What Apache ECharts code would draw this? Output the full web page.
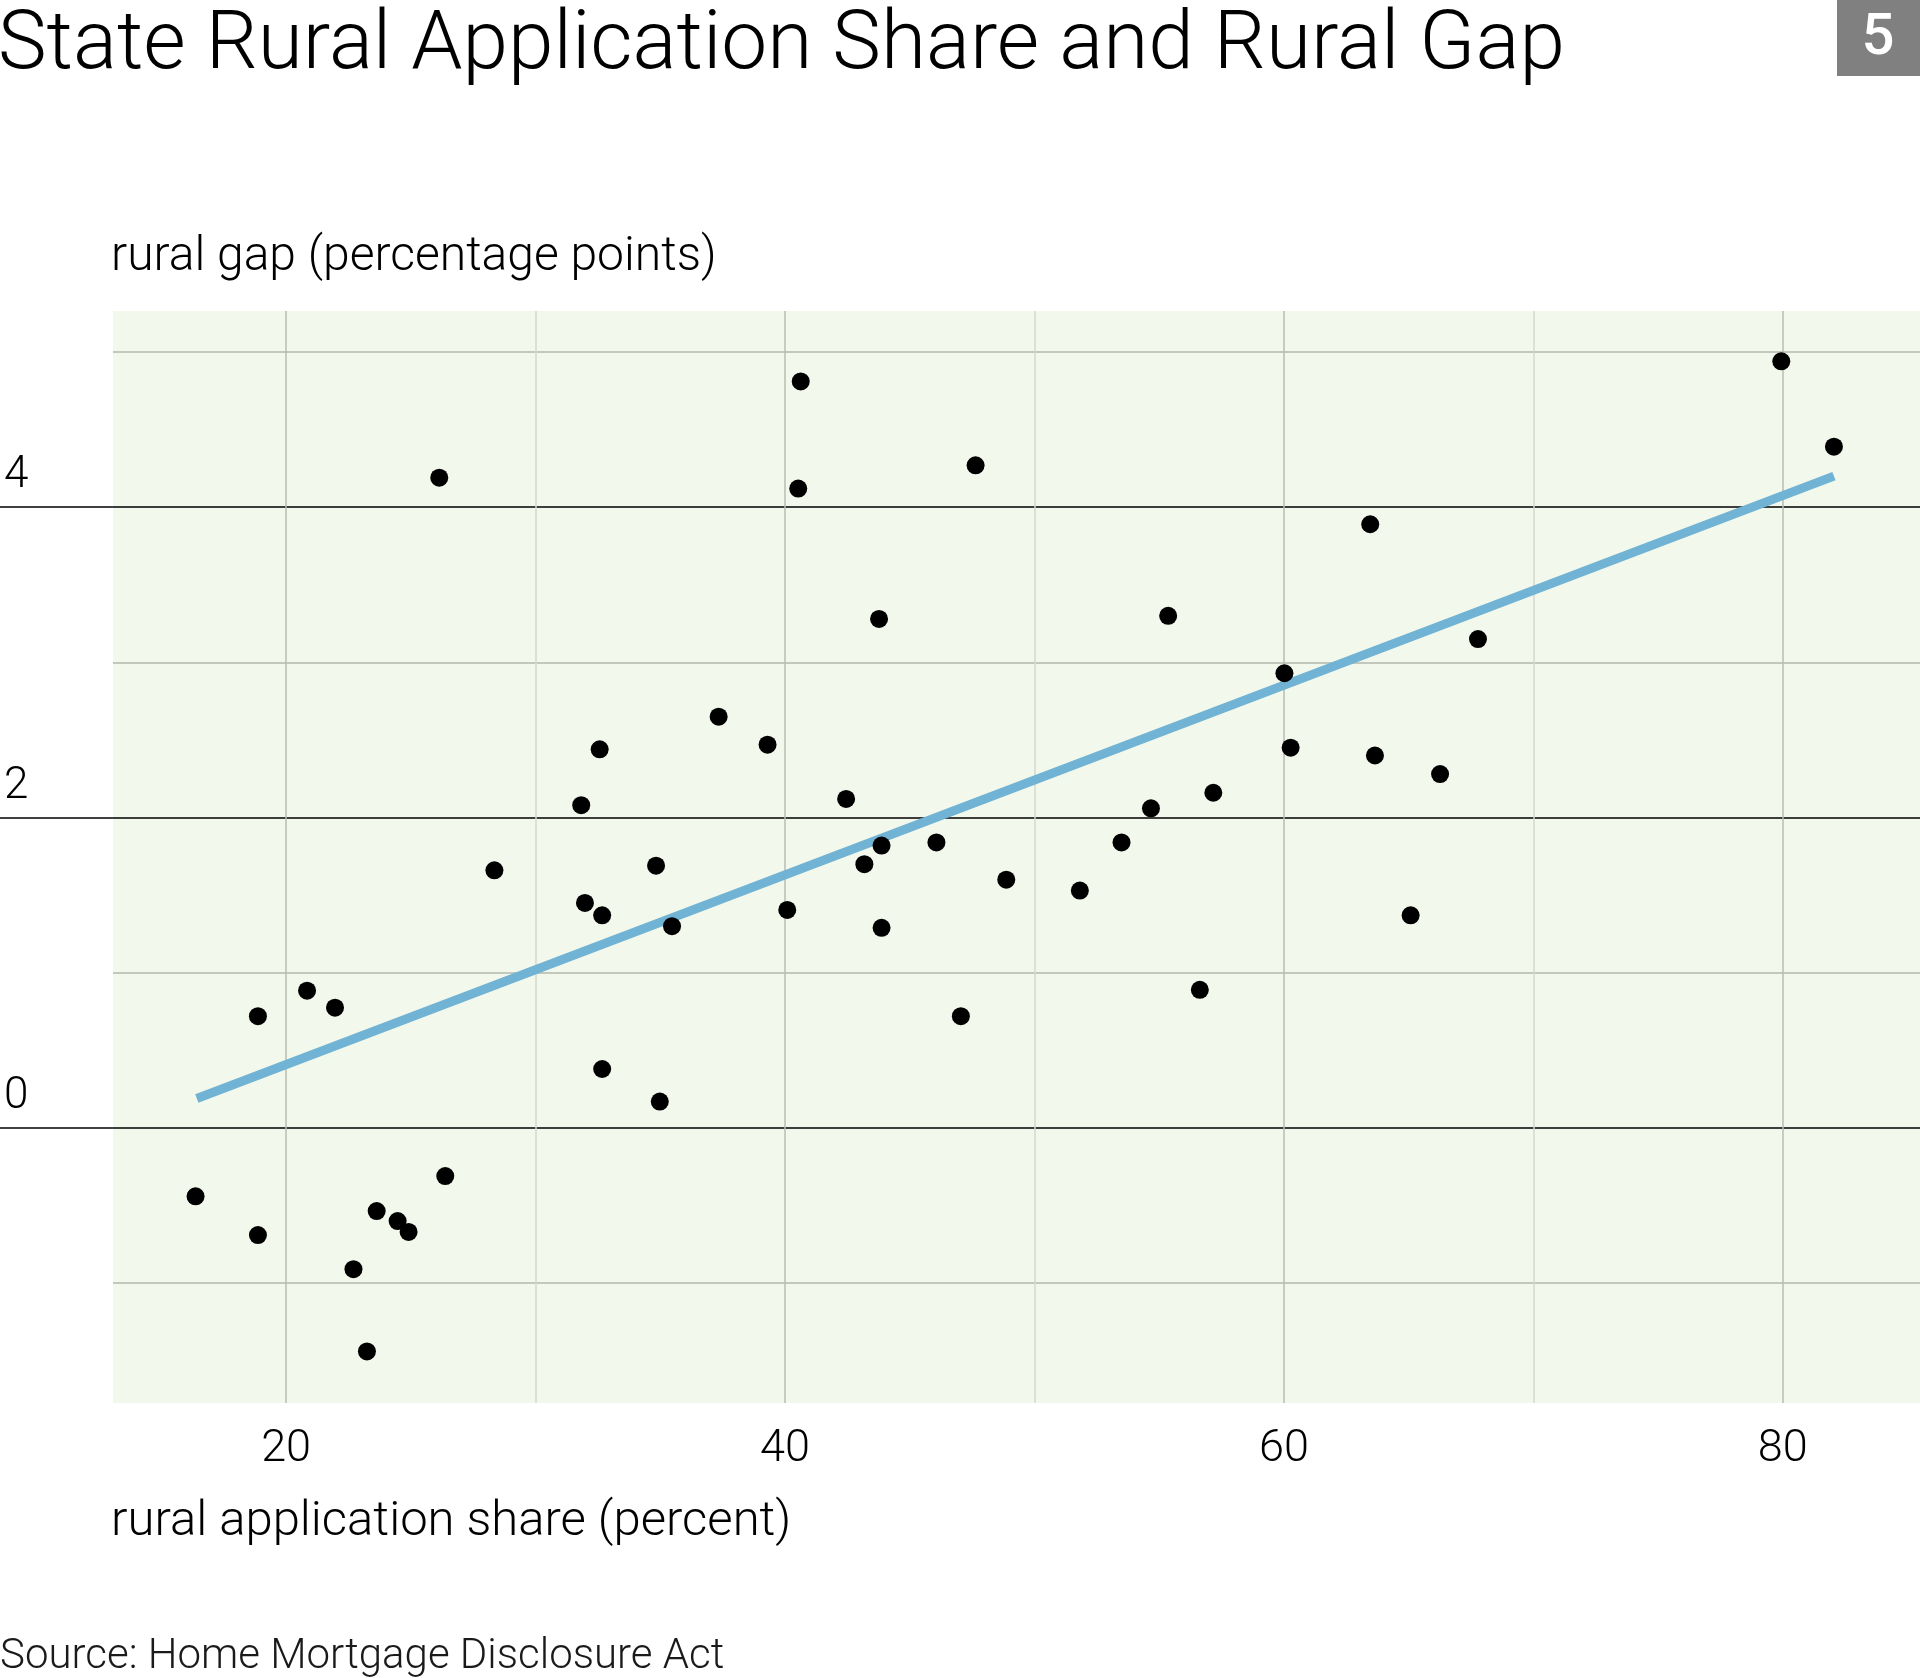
<!DOCTYPE html>
<html>
<head>
<meta charset="utf-8">
<title>State Rural Application Share and Rural Gap</title>
<script src="https://cdn.jsdelivr.net/npm/echarts@6/dist/echarts.min.js"></script>
<style>
    html, body { margin: 0; padding: 0; background: #fff; }
    #chart { width: 1920px; height: 1678px; }
</style>
</head>
<body>
<div id="chart"></div>
<script>
// rural application share (percent), one value per state
const appShare = [
    16.37, 18.87, 18.87, 20.84, 21.96, 22.70, 23.24, 23.63, 24.47, 24.91,
    26.14, 26.38, 28.35, 31.83, 31.98, 32.57, 32.67, 32.67, 34.83, 34.98,
    35.47, 37.34, 39.30, 40.09, 40.53, 40.63, 42.45, 43.18, 43.77, 43.87,
    43.87, 46.07, 47.05, 47.64, 48.87, 51.82, 53.49, 54.67, 55.36, 56.63,
    57.17, 60.02, 60.27, 63.46, 63.65, 65.08, 66.26, 67.78, 79.94, 82.05
];

// rural gap (percentage points), same order as appShare
const ruralGap = [
    -0.44, -0.69, 0.72, 0.885, 0.775, -0.91, -1.44, -0.535, -0.60, -0.67,
    4.19, -0.31, 1.66, 2.08, 1.45, 2.44, 1.37, 0.38, 1.69, 0.17,
    1.30, 2.65, 2.47, 1.405, 4.12, 4.81, 2.12, 1.70, 3.28, 1.82,
    1.29, 1.84, 0.72, 4.27, 1.60, 1.53, 1.84, 2.06, 3.30, 0.89,
    2.16, 2.93, 2.45, 3.89, 2.40, 1.37, 2.28, 3.15, 4.94, 4.39
];

// fitted line end points
const trendShare = [16.42, 82.05];
const trendGap = [0.19, 4.20];

// ticks
const xGridTicks = [20, 30, 40, 50, 60, 70, 80];
const xLabelTicks = [20, 40, 60, 80];
const yGridTicks = [-1, 0, 1, 2, 3, 4, 5];
const yLabelTicks = [0, 2, 4];

(() => {
    const font = 'Roboto';
    const xRange = [13.06, 85.5];
    const yRange = [-1.772, 5.264];
    const plotTop = 311, plotBottom = 275, plotLeft = 113;

    let points = appShare.map((x, i) => [x, ruralGap[i]]);
    let trend = trendShare.map((x, i) => [x, trendGap[i]]);

    let option = {
        animation: false,
        backgroundColor: '#fff',
        title: [{
            text: 'State Rural Application Share and Rural Gap',
            left: -2,
            top: 6,
            padding: 0,
            textStyle: { fontFamily: font, fontWeight: 300, fontSize: 82, color: '#000' }
        }, {
            text: 'rural gap (percentage points)',
            left: 111,
            top: 234,
            padding: 0,
            textStyle: { fontFamily: font, fontWeight: 300, fontSize: 48, color: '#000' }
        }, {
            text: 'rural application share (percent)',
            left: 111,
            top: 1498,
            padding: 0,
            textStyle: { fontFamily: font, fontWeight: 300, fontSize: 49, color: '#000' }
        }, {
            text: 'Source: Home Mortgage Disclosure Act',
            left: 0,
            top: 1636,
            padding: 0,
            textStyle: { fontFamily: font, fontWeight: 300, fontSize: 42, color: '#1a1a1a' }
        }],
        graphic: [{
            type: 'rect',
            shape: { x: 1837, y: 0, width: 83, height: 76 },
            style: { fill: '#808080' }
        }, {
            type: 'text',
            x: 1878,
            y: 39,
            style: {
                text: '5',
                fill: '#fff',
                fontFamily: font,
                fontWeight: 500,
                fontSize: 58,
                align: 'center',
                verticalAlign: 'middle'
            }
        }],
        grid: [{
            // plot area
            left: plotLeft,
            right: 0,
            top: plotTop,
            bottom: plotBottom,
            show: true,
            backgroundColor: '#f2f8eb',
            borderWidth: 0,
            outerBoundsMode: 'none'
        }, {
            // left label strip, carries the 0 / 2 / 4 rules out to the edge
            left: 0,
            width: plotLeft,
            top: plotTop,
            bottom: plotBottom,
            outerBoundsMode: 'none'
        }],
        xAxis: [{
            type: 'value',
            gridIndex: 0,
            min: xRange[0],
            max: xRange[1],
            axisLine: { show: false },
            axisTick: { show: false, customValues: xGridTicks },
            axisLabel: {
                customValues: xLabelTicks,
                margin: 24,
                fontFamily: font,
                fontWeight: 300,
                fontSize: 45,
                color: '#000'
            },
            splitLine: {
                show: true,
                lineStyle: { color: ['#b8bdb2', '#d4d9ce'], width: 1.5 }
            }
        }, {
            type: 'value',
            gridIndex: 1,
            min: 0,
            max: 1,
            show: false
        }],
        yAxis: [{
            type: 'value',
            gridIndex: 0,
            min: yRange[0],
            max: yRange[1],
            axisLine: { show: false },
            axisTick: { show: false, customValues: yGridTicks },
            axisLabel: { show: false },
            splitLine: {
                show: true,
                lineStyle: { color: ['#b3b8ae', '#000'], width: 1.5 }
            }
        }, {
            type: 'value',
            gridIndex: 1,
            min: yRange[0],
            max: yRange[1],
            axisLine: { show: false },
            axisTick: { show: false, customValues: yLabelTicks },
            axisLabel: {
                customValues: yLabelTicks,
                inside: true,
                margin: 4,
                align: 'left',
                verticalAlign: 'bottom',
                padding: [0, 0, 9, 0],
                fontFamily: font,
                fontWeight: 300,
                fontSize: 44,
                color: '#000'
            },
            splitLine: {
                show: true,
                lineStyle: { color: '#000', width: 1.5 }
            }
        }],
        series: [{
            name: 'trend',
            type: 'line',
            xAxisIndex: 0,
            yAxisIndex: 0,
            data: trend,
            symbol: 'none',
            lineStyle: { color: '#71b3d4', width: 9, cap: 'butt' },
            silent: true
        }, {
            name: 'states',
            type: 'scatter',
            xAxisIndex: 0,
            yAxisIndex: 0,
            data: points,
            symbol: 'circle',
            symbolSize: 18,
            itemStyle: { color: '#000', opacity: 1 },
            z: 3
        }]
    };

    var myChart = echarts.init(document.getElementById('chart'));
    myChart.setOption(option);
})();
</script>
</body>
</html>
